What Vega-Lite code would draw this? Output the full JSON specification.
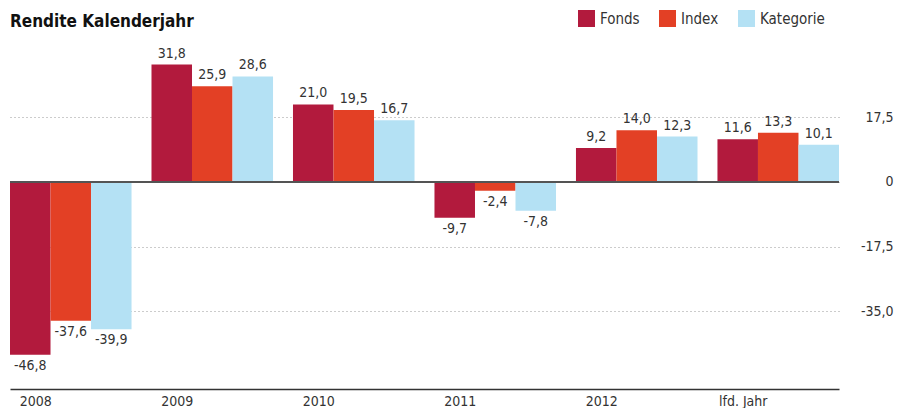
{
  "$schema": "https://vega.github.io/schema/vega-lite/v6.json",
  "width": 829,
  "height": 351,
  "autosize": {"type": "none"},
  "padding": {"left": 10, "top": 38, "right": 71, "bottom": 19},
  "background": "white",
  "title": {
    "text": "Rendite Kalenderjahr",
    "anchor": "start",
    "frame": "group",
    "fontSize": 17,
    "fontWeight": "bold",
    "color": "#111111",
    "baseline": "alphabetic",
    "offset": 12,
    "dy": 46
  },
  "data": {
    "values": [
      {"jahr": "2008", "serie": "Fonds", "wert": -46.8},
      {"jahr": "2008", "serie": "Index", "wert": -37.6},
      {"jahr": "2008", "serie": "Kategorie", "wert": -39.9},
      {"jahr": "2009", "serie": "Fonds", "wert": 31.8},
      {"jahr": "2009", "serie": "Index", "wert": 25.9},
      {"jahr": "2009", "serie": "Kategorie", "wert": 28.6},
      {"jahr": "2010", "serie": "Fonds", "wert": 21.0},
      {"jahr": "2010", "serie": "Index", "wert": 19.5},
      {"jahr": "2010", "serie": "Kategorie", "wert": 16.7},
      {"jahr": "2011", "serie": "Fonds", "wert": -9.7},
      {"jahr": "2011", "serie": "Index", "wert": -2.4},
      {"jahr": "2011", "serie": "Kategorie", "wert": -7.8},
      {"jahr": "2012", "serie": "Fonds", "wert": 9.2},
      {"jahr": "2012", "serie": "Index", "wert": 14.0},
      {"jahr": "2012", "serie": "Kategorie", "wert": 12.3},
      {"jahr": "lfd. Jahr", "serie": "Fonds", "wert": 11.6},
      {"jahr": "lfd. Jahr", "serie": "Index", "wert": 13.3},
      {"jahr": "lfd. Jahr", "serie": "Kategorie", "wert": 10.1}
    ]
  },
  "encoding": {
    "x": {
      "field": "jahr",
      "type": "nominal",
      "sort": null,
      "scale": {"paddingInner": 0.141, "paddingOuter": 0},
      "axis": {
        "title": null,
        "labelAngle": 0,
        "labelOffset": -35,
        "labelFontSize": 14,
        "labelColor": "#333333",
        "labelPadding": 5,
        "ticks": false,
        "domainColor": "#333333",
        "domainWidth": 1.5,
        "grid": false
      }
    },
    "xOffset": {
      "field": "serie",
      "type": "nominal",
      "scale": {"paddingInner": 0, "paddingOuter": 0}
    },
    "y": {
      "field": "wert",
      "type": "quantitative",
      "scale": {"domain": [-56.1, 39], "nice": false, "zero": false},
      "axis": {
        "title": null,
        "orient": "right",
        "values": [-35, -17.5, 0, 17.5],
        "labelExpr": "datum.value == 0 ? '0' : format(datum.value, '.1f')",
        "labelAlign": "right",
        "labelPadding": 54,
        "labelFontSize": 14,
        "labelColor": "#333333",
        "ticks": false,
        "domain": false,
        "grid": true,
        "gridColor": "#999999",
        "gridDash": [1, 3],
        "gridWidth": 1
      }
    }
  },
  "layer": [
    {
      "mark": {"type": "bar"},
      "encoding": {
        "color": {
          "field": "serie",
          "type": "nominal",
          "scale": {
            "domain": ["Fonds", "Index", "Kategorie"],
            "range": ["#b21a3d", "#e34025", "#b4e1f4"]
          },
          "legend": {
            "title": null,
            "orient": "none",
            "legendX": 568,
            "legendY": -28,
            "direction": "horizontal",
            "symbolType": "square",
            "symbolSize": 289,
            "symbolStrokeWidth": 0,
            "symbolOpacity": 1,
            "labelFontSize": 15,
            "labelColor": "#333333",
            "labelOffset": 5,
            "columnPadding": 19
          }
        }
      }
    },
    {
      "mark": {"type": "rule", "color": "#555555", "strokeWidth": 1.5},
      "encoding": {
        "y": {"datum": 0},
        "x": null,
        "xOffset": null
      }
    },
    {
      "transform": [{"filter": "datum.wert >= 0"}],
      "mark": {"type": "text", "baseline": "bottom", "dy": -4, "fontSize": 14, "color": "#333333"},
      "encoding": {
        "text": {"field": "wert", "type": "quantitative", "format": ".1f"}
      }
    },
    {
      "transform": [{"filter": "datum.wert < 0"}],
      "mark": {"type": "text", "baseline": "top", "dy": 4, "fontSize": 14, "color": "#333333"},
      "encoding": {
        "text": {"field": "wert", "type": "quantitative", "format": ".1f"}
      }
    }
  ],
  "config": {
    "font": "DejaVu Sans Condensed",
    "view": {"stroke": null},
    "locale": {
      "number": {
        "decimal": ",",
        "thousands": ".",
        "grouping": [3],
        "currency": ["", " €"],
        "minus": "-"
      }
    }
  }
}
